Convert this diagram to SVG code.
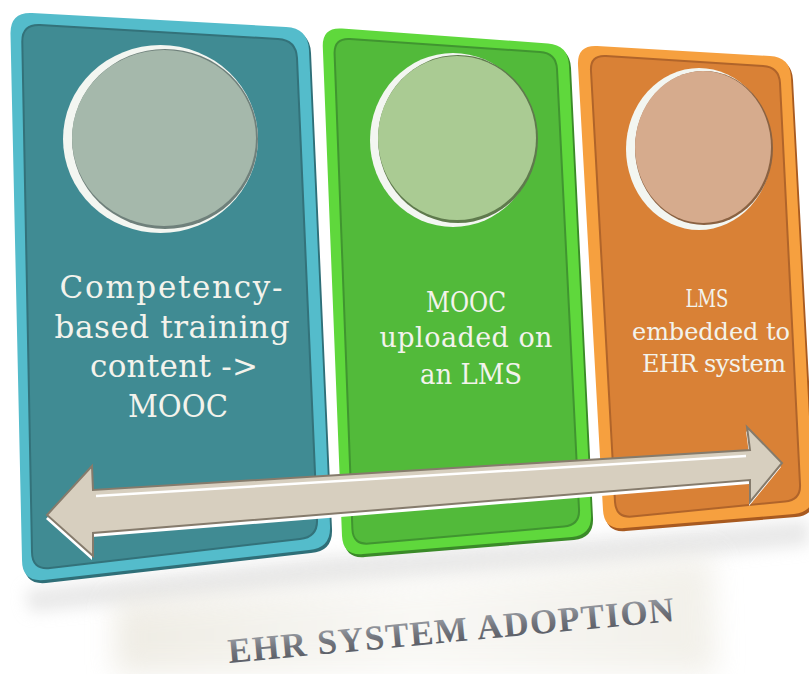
<svg xmlns="http://www.w3.org/2000/svg" width="809" height="674" viewBox="0 0 809 674">
<defs>
<style>
.lbl{font-family:"DejaVu Serif","Liberation Serif",serif;fill:#f3f3ec;text-anchor:middle}
.t1{font-size:31px}.t2{font-size:27px}.t3{font-size:24px}
.title{font-family:"Liberation Serif","Times New Roman",serif;font-weight:bold;font-size:35px;fill:url(#tg);text-anchor:middle}
.rimw{fill:#f3f6f1}
</style>
<filter id="blur8" x="-20%" y="-50%" width="140%" height="200%"><feGaussianBlur stdDeviation="8"/></filter>
<filter id="blur14" x="-20%" y="-50%" width="140%" height="200%"><feGaussianBlur stdDeviation="14"/></filter>
<linearGradient id="tg" x1="0" y1="0" x2="0" y2="1"><stop offset="0" stop-color="#a9acb2"/><stop offset="0.5" stop-color="#72757d"/><stop offset="1" stop-color="#4e515a"/></linearGradient>
<linearGradient id="bgg" x1="0" y1="0" x2="1" y2="0"><stop offset="0" stop-color="#e6e2d6"/><stop offset="0.5" stop-color="#f6f5f0"/><stop offset="1" stop-color="#ebe8de"/></linearGradient>
</defs>
<rect width="809" height="674" fill="#ffffff"/>
<g id="shadows">
<path d="M25,590 L330,556 L600,538 L809,520 L809,545 L600,565 L330,585 L30,612 Z" fill="#d2d2d2" opacity="0.5" filter="url(#blur8)"/>
<path d="M115,602 L712,556 L716,674 L115,674 Z" fill="url(#bgg)" opacity="0.65" filter="url(#blur14)"/>
</g>
<g id="node-teal">
<path d="M32,13 L286,27 Q308,28 309,50 L330,526 Q331,548 309,550 L44,580 Q22,582 22,560 L10.5,34 Q10,12 32,13 Z" fill="#2f6f78" transform="translate(2,3)"/>
<path d="M32,13 L286,27 Q308,28 309,50 L330,526 Q331,548 309,550 L44,580 Q22,582 22,560 L10.5,34 Q10,12 32,13 Z" fill="#54bccb"/>
<path d="M40,25 L278,39 Q296,40 297,58 L317,519 Q318,537 300,539 L50,568 Q32,570 32,552 L22.3,42 Q22,24 40,25 Z" fill="#408b93" stroke="#33727a" stroke-width="2"/>
<ellipse class="rimw" cx="160.5" cy="139" rx="97.5" ry="94"/>
<ellipse cx="165" cy="139" rx="93" ry="90" fill="#6f807b"/>
<ellipse cx="164" cy="138" rx="92" ry="88" fill="#a5b8ab"/>
<text class="lbl t1" x="171" y="298" textLength="223">Competency-</text>
<text class="lbl t1" x="172" y="338" textLength="235">based training</text>
<text class="lbl t1" x="174" y="377" textLength="168">content -&gt;</text>
<text class="lbl t1" x="178" y="417" textLength="100" lengthAdjust="spacingAndGlyphs">MOOC</text>
</g>
<g id="node-green">
<path d="M342,28.5 L548,43.5 Q568,45 569,65 L591,515 Q592,535 572,537 L363,554 Q343,556 342,536 L322.8,47 Q322,27 342,28.5 Z" fill="#3a8a28" transform="translate(2,3)"/>
<path d="M342,28.5 L548,43.5 Q568,45 569,65 L591,515 Q592,535 572,537 L363,554 Q343,556 342,536 L322.8,47 Q322,27 342,28.5 Z" fill="#5fd83c"/>
<path d="M350,39 L540,52 Q556,53 557,69 L579,509 Q580,525 564,526.5 L369,543.5 Q353,545 352.4,529 L334.6,54 Q334,38 350,39 Z" fill="#52ba3a" stroke="#409530" stroke-width="2"/>
<ellipse class="rimw" cx="453" cy="140" rx="83" ry="87"/>
<ellipse cx="458" cy="139" rx="80" ry="84" fill="#5f7a4d"/>
<ellipse cx="457" cy="138" rx="79" ry="82" fill="#aacb93"/>
<text class="lbl t2" x="466" y="312" textLength="80" lengthAdjust="spacingAndGlyphs">MOOC</text>
<text class="lbl t2" x="466" y="347" textLength="173">uploaded on</text>
<text class="lbl t2" x="471" y="384" textLength="102" lengthAdjust="spacingAndGlyphs">an LMS</text>
</g>
<g id="node-orange">
<path d="M597,46 L770,56 Q790,57 791,77 L813,492 Q814,512 794,514 L624,528 Q604,530 603,510 L578,65 Q577,45 597,46 Z" fill="#a85a20" transform="translate(2,3)"/>
<path d="M597,46 L770,56 Q790,57 791,77 L813,492 Q814,512 794,514 L624,528 Q604,530 603,510 L578,65 Q577,45 597,46 Z" fill="#f6a03f"/>
<path d="M606,56 L763,66 Q779,67 780,83 L800,484 Q801,500 785,501.5 L632,516.5 Q616,518 615,502 L591,71 Q590,55 606,56 Z" fill="#d98136" stroke="#b0642a" stroke-width="2"/>
<ellipse class="rimw" cx="699" cy="149" rx="73" ry="81"/>
<ellipse cx="704" cy="148" rx="69" ry="77" fill="#8a6242"/>
<ellipse cx="703" cy="147" rx="68" ry="76" fill="#d6ab8d"/>
<text class="lbl t3" x="707" y="307" textLength="43" lengthAdjust="spacingAndGlyphs">LMS</text>
<text class="lbl t3" x="711" y="340" textLength="158">embedded to</text>
<text class="lbl t3" x="714" y="372" textLength="144">EHR system</text>
</g>
<g id="connectors">
<path d="M47,515 L92,466 L93,490 L750,450 L747,427 L782,463 L750,502 L750,480 L93,533 L93,556 Z" fill="#ffffff" transform="translate(-1,4)"/>
<path d="M47,515 L92,466 L93,490 L750,450 L747,427 L782,463 L750,502 L750,480 L93,533 L93,556 Z" fill="#d7cfbf" stroke="#857b6c" stroke-width="2" stroke-linejoin="miter"/>
<path d="M96,496 L746,456" stroke="#ffffff" stroke-width="2.5" fill="none"/>
</g>
<g id="title">
<text class="title" x="452" y="642" textLength="448" transform="rotate(-5.4 452 642)">EHR SYSTEM ADOPTION</text>
</g>
</svg>
